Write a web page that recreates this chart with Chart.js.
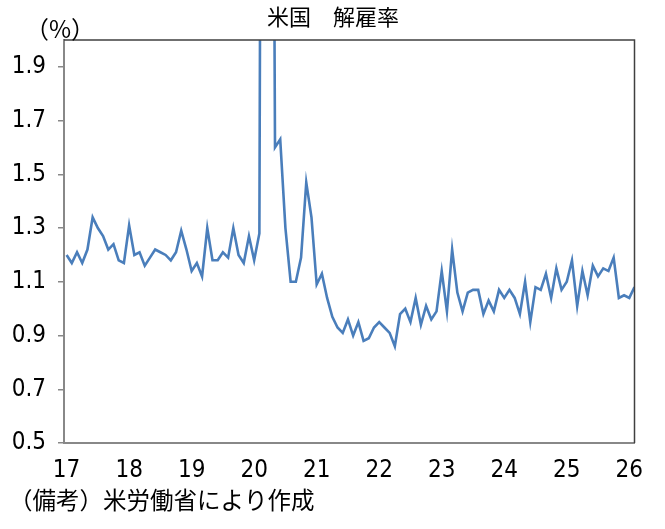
<!DOCTYPE html>
<html><head><meta charset="utf-8">
<script src="https://cdn.jsdelivr.net/npm/chart.js@4/dist/chart.umd.min.js"></script>
<style>html,body{margin:0;padding:0;background:#fff}</style>
</head><body>
<canvas id="c" width="665" height="529"></canvas>
<script>
// ---- data (US layoffs rate, %, monthly Jan 2017 - Feb 2026) ----
const chartTitle = '米国　解雇率';
const unitLabel = '（%）';
const sourceNote = '（備考）米労働省により作成';
const yearLabels = ['17','18','19','20','21','22','23','24','25','26'];
const yearTickIndex = [0,12,24,36,48,60,72,84,96,108];
const yTicks = [0.5,0.7,0.9,1.1,1.3,1.5,1.7,1.9];

const rate2017 = [1.20,1.17,1.21,1.17,1.22,1.34,1.30,1.27,1.22,1.24,1.18,1.17];
const rate2018 = [1.31,1.20,1.21,1.16,1.19,1.22,1.21,1.20,1.18,1.21,1.29,1.22];
const rate2019 = [1.14,1.17,1.12,1.30,1.18,1.18,1.21,1.19,1.30,1.20,1.17,1.27];
const rate2020 = [1.18,1.28,7.6,5.9,1.60,1.63,1.30,1.10,1.10,1.19,1.47,1.34];
const rate2021 = [1.09,1.13,1.04,0.97,0.93,0.91,0.96,0.90,0.95,0.88,0.89,0.93];
const rate2022 = [0.95,0.93,0.91,0.86,0.98,1.00,0.95,1.04,0.94,1.01,0.96,0.99];
const rate2023 = [1.14,0.99,1.22,1.06,0.99,1.06,1.07,1.07,0.98,1.03,0.99,1.07];
const rate2024 = [1.04,1.07,1.04,0.98,1.10,0.95,1.08,1.07,1.13,1.04,1.15,1.07];
const rate2025 = [1.10,1.18,1.01,1.14,1.05,1.16,1.12,1.15,1.14,1.19,1.04,1.05];
const rate2026 = [1.04,1.08];

const layoffRate = [].concat(rate2017,rate2018,rate2019,rate2020,rate2021,rate2022,rate2023,rate2024,rate2025,rate2026);
const points = layoffRate.map((v,i)=>({x:i,y:v}));

const numFont = "'Liberation Sans Narrow','DejaVu Sans Condensed','Liberation Sans',sans-serif";
const cjkFont = "'Noto Sans CJK JP','Noto Sans',sans-serif";

const extraText = {
  id:'extraText',
  afterDraw(chart){
    const {ctx, chartArea:a} = chart;
    ctx.save();
    // top & right frame
    ctx.strokeStyle = '#404040';
    ctx.lineWidth = 1.5;
    ctx.beginPath();
    ctx.moveTo(a.left, a.top); ctx.lineTo(a.right, a.top); ctx.lineTo(a.right, a.bottom);
    ctx.stroke();
    ctx.fillStyle = '#000';
    ctx.textBaseline = 'middle';
    ctx.textAlign = 'left';
    ctx.font = "24px " + cjkFont;
    ctx.fillText(unitLabel, 25, 29);
    ctx.font = "23.5px " + cjkFont;
    ctx.fillText(sourceNote, 9, 500);
    ctx.restore();
  }
};

new Chart(document.getElementById('c'), {
  type:'line',
  data:{datasets:[{
    label:'解雇率',
    data:points,
    borderColor:'#4a7ebb',
    borderWidth:2.6,
    pointRadius:0,
    tension:0,
    fill:false
  }]},
  options:{
    responsive:false,
    animation:false,
    devicePixelRatio:1,
    layout:{padding:{top:0,left:10,right:9,bottom:46}},
    plugins:{
      legend:{display:false},
      tooltip:{enabled:false},
      title:{display:true,text:chartTitle,color:'#000',
        font:{family:cjkFont,size:22,weight:'normal',lineHeight:1.2},
        padding:{top:3,bottom:10.6}}
    },
    scales:{
      x:{type:'linear',min:-0.5,max:109,
        afterBuildTicks(s){ s.ticks = yearTickIndex.map(v=>({value:v})); },
        afterFit(s){ s.height = 40; },
        grid:{display:false,drawTicks:false},
        border:{display:true,color:'#888',width:2},
        ticks:{autoSkip:false,maxRotation:0,padding:13,color:'#000',
          font:{family:numFont,size:24},
          callback:(v,i)=>yearLabels[i]}
      },
      y:{min:0.5,max:2.0,
        afterBuildTicks(s){ s.ticks = yTicks.map(v=>({value:v})); },
        afterFit(s){ s.width = 54; },
        grid:{display:true,drawOnChartArea:false,drawTicks:true,tickLength:6,color:'#888',lineWidth:1.5},
        border:{display:true,color:'#888',width:2},
        ticks:{padding:12,color:'#000',font:{family:numFont,size:24},
          callback:(v)=>Number(v).toFixed(1)}
      },
      yRight:{position:'right',min:0.5,max:2.0,
        afterFit(s){ s.width = 21.5; },
        grid:{display:false,drawTicks:false},
        border:{display:false},
        ticks:{display:false}
      }
    }
  },
  plugins:[extraText]
});
</script>
</body></html>
